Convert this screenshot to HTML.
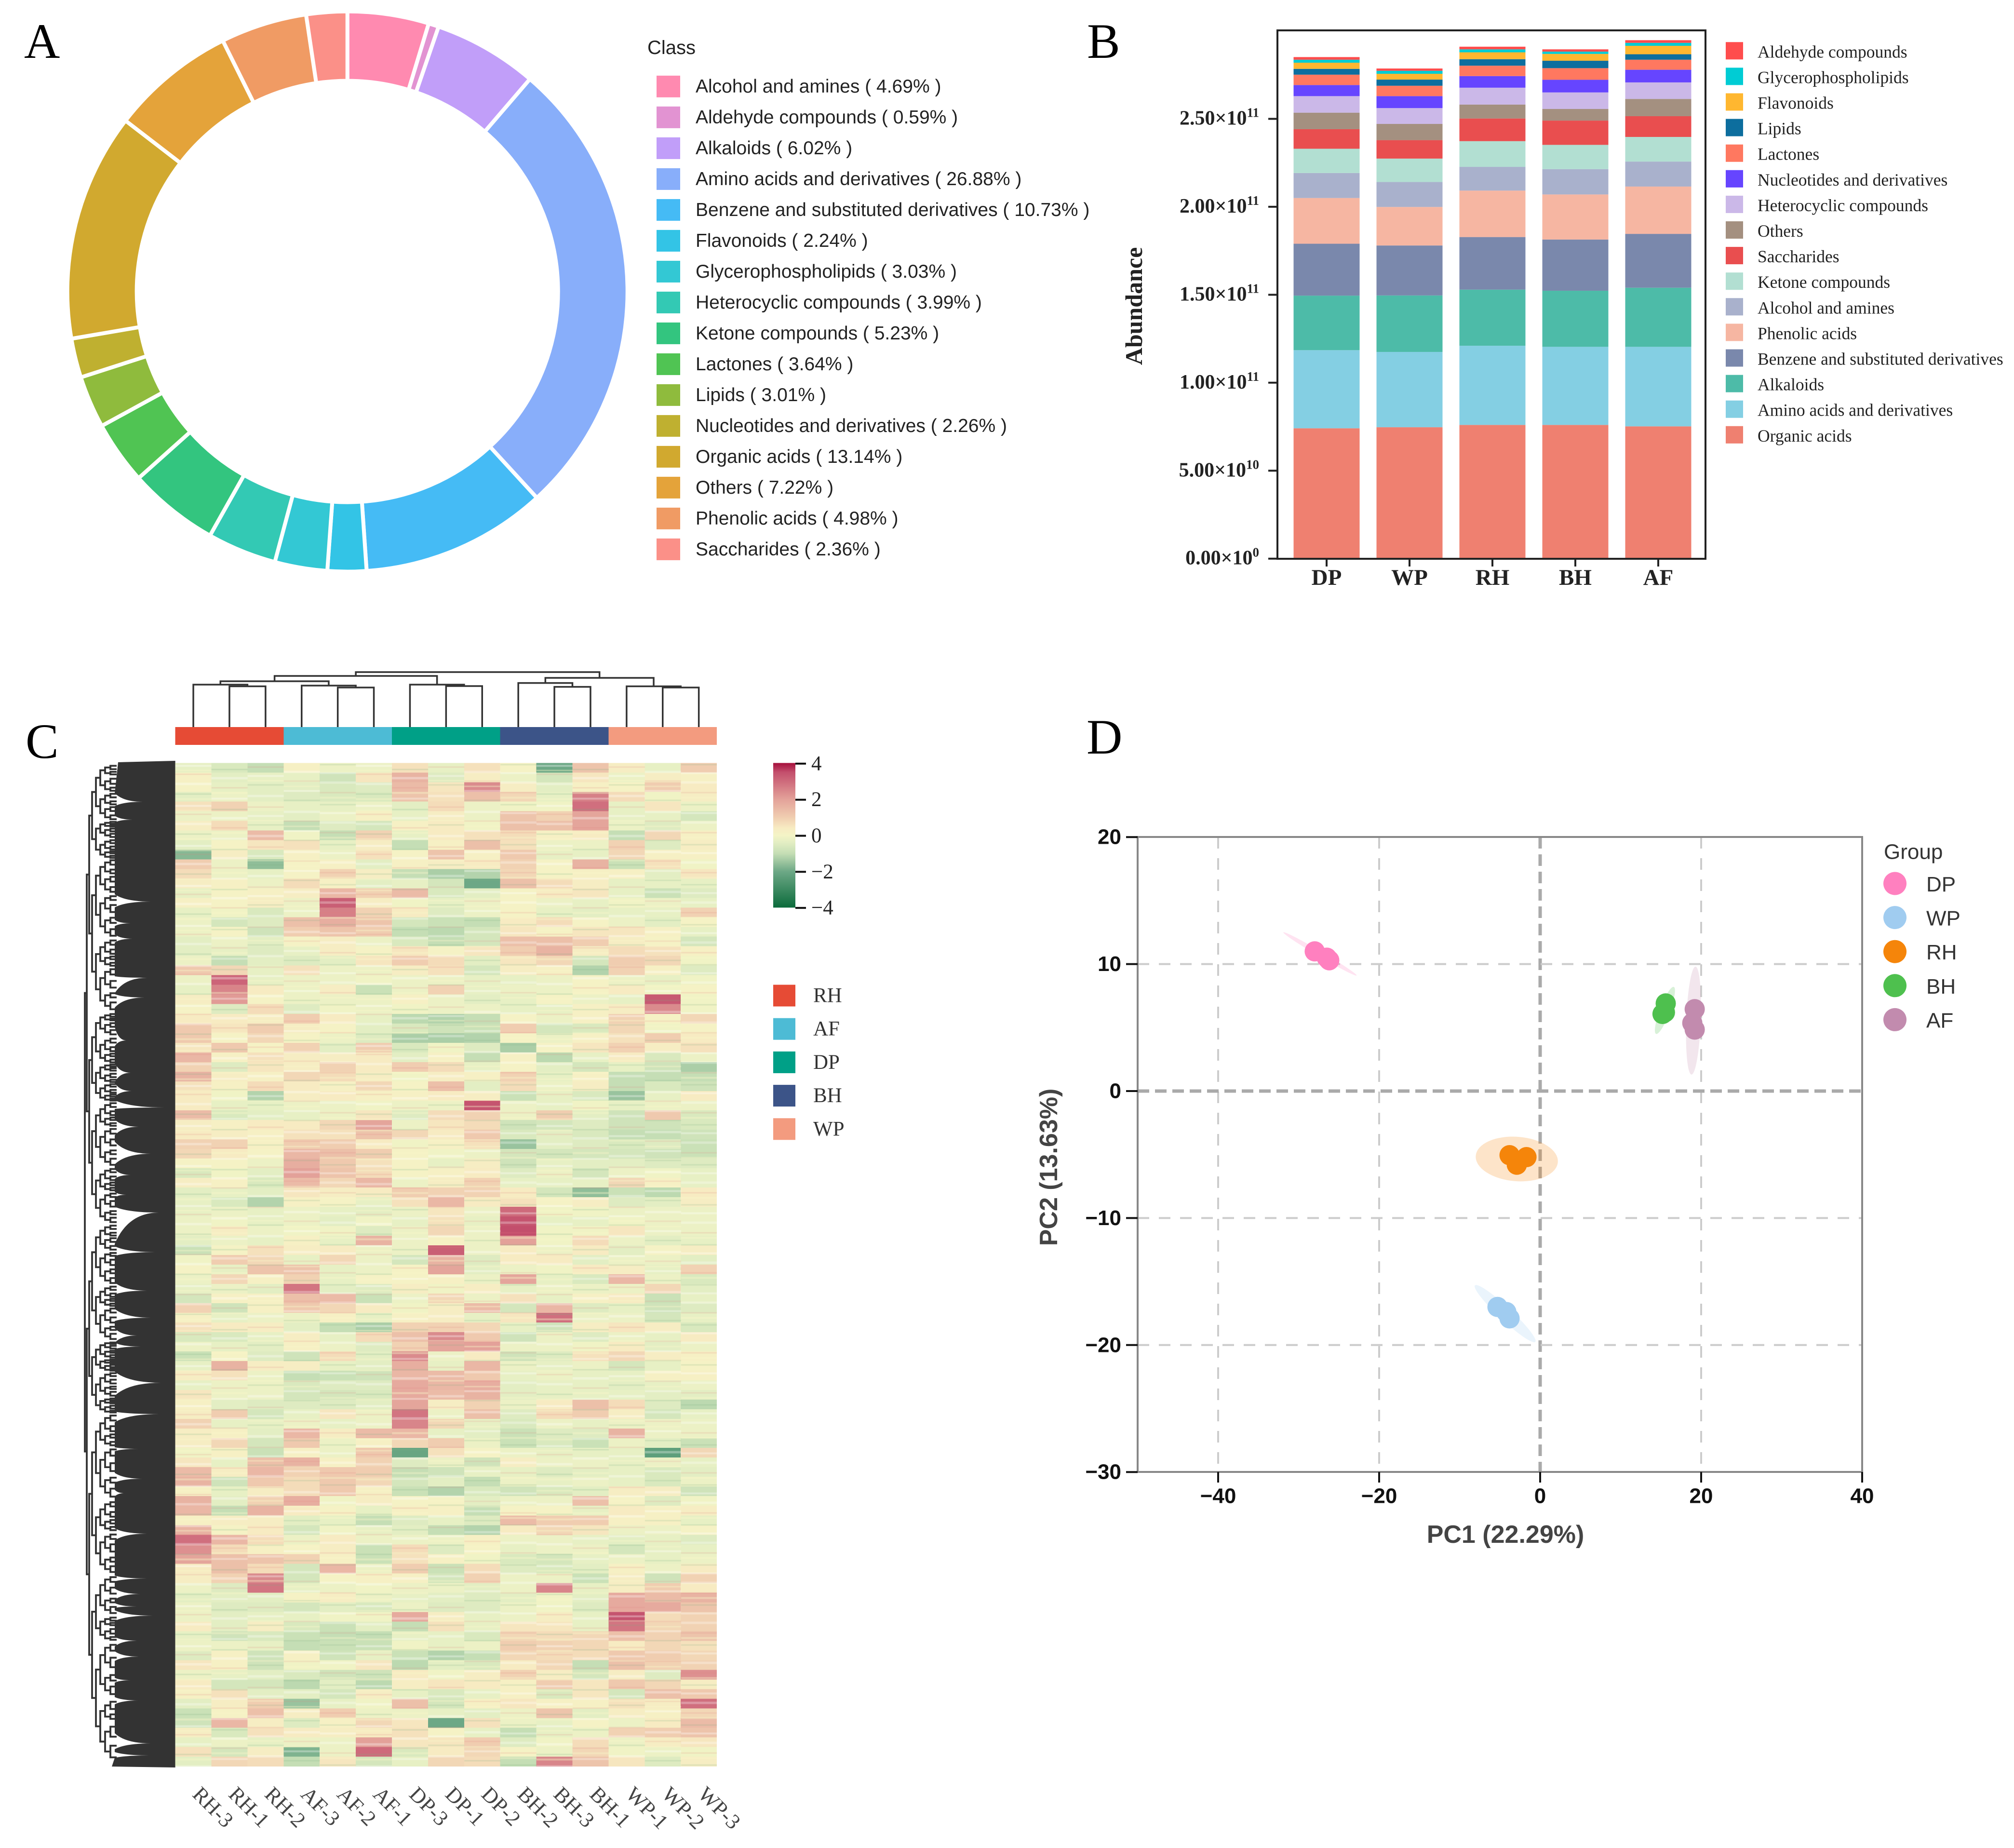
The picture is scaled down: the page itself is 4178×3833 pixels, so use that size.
<!DOCTYPE html>
<html lang="en">
<head>
<meta charset="utf-8">
<title>Metabolite composition, abundance, heatmap and PCA</title>
<style>
html,body{margin:0;padding:0;background:#fff;}
svg{display:block;}
text{fill:#222;}
.sans{font-family:"Liberation Sans",sans-serif;}
.serif{font-family:"Liberation Serif",serif;}
</style>
</head>
<body>
<svg id="fig" xmlns="http://www.w3.org/2000/svg" width="4178" height="3833" viewBox="0 0 4178 3833">
  <rect x="0" y="0" width="4178" height="3833" fill="#fff"/>
  <defs>
    <linearGradient id="cbGrad" x1="0" y1="0" x2="0" y2="1"></linearGradient>
    <pattern id="stripes" patternUnits="userSpaceOnUse" x="363.6" y="1582.5" width="374.65" height="83">
      <rect x="0" y="4" width="75" height="4" fill="#fff" opacity=".35"/>
      <rect x="0" y="14" width="75" height="3" fill="#f7f5c8" opacity=".4"/>
      <rect x="0" y="22" width="75" height="3" fill="#e07f7f" opacity=".16"/>
      <rect x="0" y="41" width="75" height="5" fill="#fff" opacity=".3"/>
      <rect x="0" y="63" width="75" height="3" fill="#78ad80" opacity=".2"/>
      <rect x="0" y="73" width="75" height="4" fill="#f7f5c8" opacity=".4"/>
      <rect x="75" y="12" width="75" height="3" fill="#78ad80" opacity=".2"/>
      <rect x="75" y="29" width="75" height="5" fill="#fff" opacity=".32"/>
      <rect x="75" y="50" width="75" height="3" fill="#e07f7f" opacity=".16"/>
      <rect x="75" y="60" width="75" height="4" fill="#f7f5c8" opacity=".4"/>
      <rect x="75" y="72" width="75" height="4" fill="#fff" opacity=".3"/>
      <rect x="150" y="7" width="75" height="3" fill="#e07f7f" opacity=".16"/>
      <rect x="150" y="25" width="75" height="4" fill="#fff" opacity=".32"/>
      <rect x="150" y="35" width="75" height="3" fill="#f7f5c8" opacity=".4"/>
      <rect x="150" y="44" width="75" height="3" fill="#78ad80" opacity=".18"/>
      <rect x="150" y="66" width="75" height="5" fill="#fff" opacity=".3"/>
      <rect x="225" y="16" width="75" height="5" fill="#fff" opacity=".3"/>
      <rect x="225" y="36" width="75" height="3" fill="#e07f7f" opacity=".15"/>
      <rect x="225" y="47" width="75" height="3" fill="#f7f5c8" opacity=".4"/>
      <rect x="225" y="56" width="75" height="4" fill="#fff" opacity=".32"/>
      <rect x="225" y="76" width="75" height="3" fill="#78ad80" opacity=".18"/>
      <rect x="300" y="2" width="75" height="3" fill="#78ad80" opacity=".18"/>
      <rect x="300" y="19" width="75" height="4" fill="#fff" opacity=".32"/>
      <rect x="300" y="38" width="75" height="5" fill="#fff" opacity=".28"/>
      <rect x="300" y="60" width="75" height="3" fill="#e07f7f" opacity=".16"/>
      <rect x="300" y="70" width="75" height="4" fill="#f7f5c8" opacity=".4"/>
    </pattern>
  </defs>

  <text class="serif" x="50" y="120" font-size="103" style="fill:#000">A</text>
  <text class="serif" x="2255" y="120" font-size="103" style="fill:#000">B</text>
  <text class="serif" x="53" y="1572" font-size="103" style="fill:#000">C</text>
  <text class="serif" x="2254" y="1563" font-size="103" style="fill:#000">D</text>

  <g id="panelA"></g>
  <text class="sans" x="1343" y="99" font-size="40" dominant-baseline="central">Class</text>
  <g id="panelAL"></g>

  <g id="panelB"></g>
  <rect x="2650" y="63" width="888" height="1096" fill="none" stroke="#222" stroke-width="4"/>
  <g id="panelBAxis"></g>
  <text class="serif" font-weight="bold" font-size="50" text-anchor="middle" dominant-baseline="central" transform="translate(2352 635) rotate(-90)">Abundance</text>
  <g id="panelBL"></g>

  <g id="panelCTree"></g>
  <g id="panelCAnn"></g>
  <g id="panelCRows"></g>
  <g id="panelC"></g>
  <rect x="363.6" y="1582.5" width="1123.5" height="2081" fill="url(#stripes)"/>
  <g id="panelCLabels"></g>
  <rect x="1604" y="1582.5" width="46" height="300" fill="url(#cbGrad)"/>
  <g id="panelCBar"></g>
  <g id="panelCL"></g>

  <g id="panelD"></g>
  <text class="sans" font-weight="bold" font-size="52" x="3123" y="3183" text-anchor="middle" dominant-baseline="central" style="fill:#444">PC1 (22.29%)</text>
  <text class="sans" font-weight="bold" font-size="52" text-anchor="middle" dominant-baseline="central" transform="translate(2176 2421) rotate(-90)" style="fill:#444">PC2 (13.63%)</text>
  <text class="sans" font-size="44" x="3908" y="1767" dominant-baseline="central" style="fill:#333">Group</text>
  <g id="panelDL"></g>
</svg>

<script>
/* ---------- Panel A data ---------- */
const pieClasses = ["Alcohol and amines","Aldehyde compounds","Alkaloids","Amino acids and derivatives","Benzene and substituted derivatives","Flavonoids","Glycerophospholipids","Heterocyclic compounds","Ketone compounds","Lactones","Lipids","Nucleotides and derivatives","Organic acids","Others","Phenolic acids","Saccharides"];
const pieValues = [4.69,0.59,6.02,26.88,10.73,2.24,3.03,3.99,5.23,3.64,3.01,2.26,13.14,7.22,4.98,2.36];
const pieColors = ["#FF8AB0","#E293D2","#C19EF9","#88AEFA","#45BBF5","#33C4E6","#33C8D4","#33C9B4","#33C57F","#50C453","#8FBB3D","#BFB030","#D1A92F","#E4A33A","#F09B64","#FB9088"];

/* ---------- Panel B data (values in 1e9, stacked bottom to top) ---------- */
const barCategories = ["DP","WP","RH","BH","AF"];
const organicAcids = [74.1,74.7,76.0,76.0,75.2];
const aminoAcids = [44.4,42.8,45.0,44.4,45.2];
const alkaloids = [31.0,32.1,31.9,31.9,33.6];
const benzeneDerivatives = [29.5,28.4,29.9,29.1,30.6];
const phenolicAcids = [26.0,21.9,26.4,25.6,26.9];
const alcoholAmines = [14.2,14.2,13.5,14.4,14.2];
const ketoneCompounds = [13.8,13.3,14.6,13.8,14.0];
const saccharides = [11.1,10.5,12.9,13.8,11.8];
const others = [9.4,9.2,7.9,6.6,9.8];
const heterocyclic = [9.4,9.0,9.6,9.4,9.4];
const nucleotides = [6.3,6.8,6.6,7.2,7.2];
const lactones = [5.9,5.9,5.9,6.6,5.7];
const lipids = [3.3,3.5,3.7,4.2,3.1];
const flavonoids = [3.5,3.3,3.9,3.9,4.8];
const glycerophospholipids = [1.7,1.7,1.7,1.3,1.7];
const aldehydes = [1.5,1.3,1.5,1.3,1.5];
const barSeries = [organicAcids,aminoAcids,alkaloids,benzeneDerivatives,phenolicAcids,alcoholAmines,ketoneCompounds,saccharides,others,heterocyclic,nucleotides,lactones,lipids,flavonoids,glycerophospholipids,aldehydes];
const barSeriesNames = ["Organic acids","Amino acids and derivatives","Alkaloids","Benzene and substituted derivatives","Phenolic acids","Alcohol and amines","Ketone compounds","Saccharides","Others","Heterocyclic compounds","Nucleotides and derivatives","Lactones","Lipids","Flavonoids","Glycerophospholipids","Aldehyde compounds"];
const barColors = ["#EF8070","#84CFE3","#4DBBA8","#7A88AC","#F6B6A2","#A9B1CC","#B2DFD2","#E94E4F","#A49080","#CBB8E8","#6645FF","#FF7860","#0D6E9E","#FFB730","#00CCD4","#FF4D4D"];
const barTickValues = [0,50,100,150,200,250];
const barTickMantissa = ["0.00","5.00","1.00","1.50","2.00","2.50"];
const barTickExponent = ["0","10","11","11","11","11"];

/* ---------- Panel C data ---------- */
const heatSamples = ["RH-3","RH-1","RH-2","AF-3","AF-2","AF-1","DP-3","DP-1","DP-2","BH-2","BH-3","BH-1","WP-1","WP-2","WP-3"];
const heatGroups = ["RH","AF","DP","BH","WP"];
const heatGroupColors = ["#E64B35","#4DBBD5","#00A087","#3C5488","#F39B7F"];
const colorStopValues = [-4,-2,-1,-0.4,0,0.4,1,2,3.5,4];
const colorStopHex = ["#0B6B3B","#6DA886","#C5DEB5","#E3EEC3","#F4F4C6","#F7EBC2","#F0CDB0","#E3A199","#C34E6C","#A50F3C"];
const colorbarTicks = [4,2,0,-2,-4];
/* column merges: [left, right, height]; ids 0-14 are samples, 15+ are earlier merges */
const columnMerges = [[1,2,84.5],[0,15,88],[4,5,82],[3,17,86],[16,18,95],[7,8,85],[6,20,88],[19,21,106],[10,11,83.4],[9,23,91.4],[13,14,82],[12,25,84.5],[24,26,102],[22,27,114]];
const heatRows = [
[-.3,-.6,-1,.2,-.2,-.2,.6,-.3,.6,.1,-2,1.2,.3,-.3,1],
[.2,-.4,-.3,-.3,-.8,.5,1.6,-.5,.3,-.2,-.7,.5,-.2,.3,.2],
[.1,-.3,-.4,-.4,-.6,-.5,1.4,.5,2.4,.3,-.4,.2,.1,1,.4],
[-.4,-.2,-.4,-.5,-.6,-.6,1.2,.6,1.3,.8,-.3,2.6,.7,-.1,.3],
[.6,.9,-.2,-.3,-.3,-.2,-.4,.7,-.2,-.1,-.1,2.9,-.3,.5,-.2],
[-.2,-.2,-.3,-.4,-.2,.2,-.3,.3,-.2,1.2,.9,1.9,-.3,-.3,-.7],
[.3,.7,-.3,-1,-.5,-.7,.2,.4,-.1,1.3,1.3,1.9,-.2,-.5,-.2],
[-.2,-.2,1.4,-.1,-1,.9,-.3,.4,.6,.7,.2,.4,-1,.8,.2],
[-.4,.1,.5,.6,-.3,.3,-1,.2,1.3,.6,-.2,-.2,.9,-.5,.3],
[-1.7,.3,-.6,.2,-.2,.6,.1,1.2,.2,1.1,-.3,-.3,.8,.2,.2],
[1,-.2,-1.6,.1,.2,-.4,.2,.3,.4,.9,.1,1.6,-.9,.6,-.1],
[.7,-.2,-.3,.1,.9,.3,-1,-1.3,-1.2,.8,.1,.2,.2,-.4,.5],
[.3,.2,-.2,.7,.2,-.4,-.3,-.7,-2,1.3,.7,.3,-.3,-.3,-.3],
[-.3,.1,.2,.3,1.5,.9,1.4,-.6,-.4,.1,.4,.5,-.3,-.9,-.5],
[.2,.1,.3,-.2,3.2,.3,-.1,-.3,-.2,.1,-.2,-.3,-.1,-.2,-.3],
[-.3,-.1,-.6,-.2,2.6,.9,.4,-.5,-.2,.1,-.3,-.4,-.3,-.3,.9],
[-.2,-.7,-.5,1.3,1.7,1.2,-.7,-.9,-1,.4,.7,.1,-.2,-.4,.1],
[-.2,.1,-.8,1,1.2,1,-1,-1.1,-.7,.5,.1,.5,.5,.2,-.3],
[-.4,-.2,-.4,.1,.3,-.2,-.6,-1,-.7,1.3,1.3,1,.3,.1,-.7],
[-.4,-.3,-.5,-.3,.3,.1,.5,.1,.5,1,1.6,.3,.7,.6,.2],
[-.2,-1,-.4,-.5,-.4,.5,1,.7,-.4,.5,.8,-.7,1,.8,-.1],
[1.1,.8,-.3,.6,-.2,-.2,.3,.6,-.7,.3,.2,-1.2,.9,.2,-.5],
[-.2,3.1,-.3,-.2,-.2,-.1,-.2,-.2,-.3,-.3,-.2,.1,-.2,-.3,-.1],
[-.3,2.5,.4,-.2,.3,-.9,-.2,.9,-.3,-.2,-.2,.1,.4,-.1,.1],
[.3,2.1,.1,-.2,-.2,-.2,.2,-.2,-.4,-.3,.1,-.2,-.3,3.3,-.1],
[.1,-.5,.7,-.5,-.1,-.2,-.1,-.2,-.2,-.3,-.3,.2,.3,2.4,-.1],
[.4,.4,.3,1,.4,-.3,-1.1,-1.2,-1,.1,-.2,.2,.9,.1,.8],
[1.1,.5,1,.3,.1,-.4,-.6,-.8,-.9,1,-.7,-.6,.8,-.1,.1],
[1.1,.1,.8,.1,-.2,-.5,-1.3,-1.3,-1.2,.1,-.2,.2,.6,1,.4],
[.5,1.1,.1,.9,-.4,1,-.6,-.1,-.5,-1.3,.1,.5,.9,.3,.6],
[1.5,.2,.6,.3,.3,.4,-.4,.2,-1,.2,-1.1,-.3,.4,-.6,-.2],
[.9,-.5,.5,.3,.9,.4,1,.7,-.3,.1,-.4,-.7,-.3,-.8,-1.3],
[1.6,.3,.2,.8,.7,.3,-.1,.3,.2,.9,-.3,.2,-1,-1,-1],
[.6,.2,.7,.4,.2,.8,.1,1.3,-.4,.7,-.2,.3,-1,-.6,-.8],
[.4,-.1,-1.2,.3,.4,.2,.2,.4,.3,-.9,-.3,-.6,-1.5,-.3,.4],
[.4,-.3,-.3,-.2,-.2,-.1,-.2,-.2,3.4,-.2,-.3,-.1,-.3,-.2,-.2],
[1.4,-.6,-.4,-.3,-.2,.5,-.5,.7,.9,-.2,1,-.4,-.8,1.1,-.6],
[.3,.2,.4,.4,.8,1.9,-.2,.5,.7,-.8,-.7,-.5,-.8,-.8,-.6],
[.4,.3,.2,.6,.6,1.2,.8,.4,1.1,-.6,-.4,-.6,-1,-1,-.8],
[.9,.9,.2,1,1,.4,-.1,.2,.6,-1.5,-.4,-.5,-.6,-.5,-.9],
[.8,.4,.1,1.5,1.3,1,.1,-.1,-.2,-.7,-.7,-.7,-.7,-.8,-.9],
[.1,.1,-.2,1.7,1.1,.6,.1,-.3,.3,-.8,-.3,-.4,-.4,-.5,-.5],
[-.6,-.1,-.4,2,1.2,.7,.1,.2,.4,-.5,-.2,-.7,-.2,-.1,-.3],
[.3,.2,-.6,1.4,.8,1.5,-.2,.3,.9,-.3,-.3,-.3,.8,.2,-.3],
[-.4,-.3,-.4,.5,.3,.4,1,.9,.9,.4,-.7,-1.6,-.9,-1.1,.4],
[-.3,-.6,-1.2,.2,.1,-.3,.6,1.5,.4,.6,.1,.3,-.5,-.4,.3],
[-.3,-.2,-.3,-.2,-.3,-.4,-.2,.5,-.2,3,-.1,-.1,-.2,-.2,-.2],
[-.2,-.1,-.3,-.2,-.4,-.1,-.3,.6,-.3,3.4,-.3,-.3,-.1,-.2,-.2],
[-.2,.3,-.2,-.1,-.1,-.5,-.2,.8,-.2,3.5,-.1,-.1,.5,-.2,-.2],
[-.4,-.2,-.3,.2,-.3,1.6,-.2,.2,-.2,2,-.1,.7,-.2,-.4,-.3],
[-.9,.1,.6,.3,.4,-.2,-.2,3.2,-.2,.4,-.2,.4,-.4,.1,.3],
[-.1,1,.8,-.3,.8,-.2,-.7,1.6,-.5,.4,.4,-.4,-.2,-.2,-.4],
[.1,-.3,1.2,1.2,-.3,-.2,.1,1.9,-.4,-.2,-.1,.4,.3,-.3,.9],
[-.2,.8,.2,.9,-.3,.1,.1,.2,-.2,1.9,-.3,-.6,1.5,-.2,-.6],
[-.3,-.2,-.4,2.8,-.4,-.5,.3,-.1,.3,-.3,-.2,-.2,-.2,.8,-.4],
[-.7,.2,.2,1.3,1.4,-.9,-.2,.8,-.2,.6,-.3,.2,.4,-.9,-.3],
[.9,-.8,.2,1.1,.8,.4,-.1,.3,1.4,-.7,1.5,-.5,-.3,-.8,-.5],
[.2,-.3,-.2,-.2,.2,-.3,.2,.3,-.3,.5,2.9,-.2,-.2,-.7,-.3],
[.6,.4,.3,-.4,-1,-1.3,.9,.9,.8,-.3,-.8,.3,.5,.3,-.6],
[-.6,-.6,-.3,.3,-.3,.7,1.3,2.4,1.1,-.8,-.2,-.5,-.2,-.3,.4],
[-.2,-.3,-.4,.2,-.2,-.5,.9,1.9,2,-.2,-.2,-.1,.4,-.4,-.2],
[-.9,.1,-.5,-.8,.7,-.4,2.4,-.2,.4,-.8,-.5,.6,.8,.3,.2],
[-.3,1.6,.3,.3,-.3,-.4,1.7,-.3,1.5,-.2,-.3,-.2,-.7,-.3,.1],
[.3,.6,-.2,-1,-.9,-.8,1.5,1.4,1.1,-.3,-.2,-.3,-.3,.2,.2],
[-.3,-.2,-.2,-.6,-.5,-.5,1.8,1.5,1.7,-.4,-.3,-.3,-.4,-.3,-.2],
[.5,-.2,-.2,-.7,-.7,-.6,1.8,1.4,1.6,-.4,-.3,-.3,-.3,-.4,-.4],
[.2,-.4,-.5,-.5,-.5,-.4,1.9,.3,.9,-.2,.4,1.3,.7,-.5,-1.1],
[.3,1,-.7,-.3,.5,-.2,2.8,-.2,1.3,-.5,.7,1,.3,-.7,-.3],
[.9,-.3,-.3,-.2,-.3,-.2,2.5,.8,-.3,-.6,-.2,-.3,-.2,-.2,-.2],
[.3,.2,-.4,1.5,.3,1.4,1.5,-.3,-.4,-.9,-.5,-.5,1.6,-.2,-.2],
[.3,.8,-.7,1.1,-.2,.2,.8,1,-.2,-.9,-.6,-.9,-.2,-.4,-.9],
[-.1,.2,-.9,.2,-.2,1.1,-2.1,.6,.1,-.2,-.3,-.3,-.3,-2.3,.8],
[.5,-.3,1.3,1.6,.2,.9,-.5,-.2,-.8,.3,-.2,-.2,-.3,-.2,-.3],
[1.4,.3,1.5,.9,1.1,1,-1,-.8,-.3,-.3,-.5,-.4,-.3,-.6,-.4],
[1.6,-.8,1.1,.7,1.1,.8,-.7,-.4,-1,-.2,-.3,-.2,-.3,-.6,-.2],
[.2,-.3,.3,.7,1.1,.2,-.9,-1.2,-.6,-.8,-.6,-.4,.3,.3,-.8],
[1.6,-.4,.9,1.7,-.1,.3,.1,.1,-.4,-.2,-.2,1.3,.1,-.5,-.1],
[1.5,-1,1.6,.4,.1,-.3,.2,.2,-1,.1,.1,-.3,.4,.2,.3],
[.2,.3,.3,-.4,-.3,-1,-.5,-.3,-.5,1.4,1,1,.2,.2,-.3],
[1.6,.1,.4,-.7,-.1,-.3,-.4,-1,-1.2,.4,.8,.5,-.2,-.2,.1],
[2.9,1.5,.7,-.2,.4,-.2,-.2,-.2,.2,-.2,-.2,-.3,-.4,-.3,-.5],
[2.3,.7,.2,.1,.3,-.9,.7,-.5,.1,-.3,-.2,-.2,-.7,-.3,-.3],
[1.9,1.3,1.2,.9,.2,-.9,.6,.2,-.1,-.6,-.7,-.3,-.2,-.3,-.2],
[.4,1.3,.7,-.7,1.5,-.2,1,-.9,.7,-.5,-.6,-.4,.2,-.2,.4],
[.3,.9,2.4,-.7,.1,.2,.2,-.7,.9,-.2,-.2,-.9,.3,-.8,.9],
[-.2,-.5,2.8,-.3,-.2,-.1,-.2,-.2,-.4,-.2,2.5,-.3,.3,1,.4],
[-.4,-.4,-.4,.1,.3,-.2,-.3,-.4,-.5,-.4,-.1,-.4,1.8,1.4,1.6],
[-.2,-.5,-.5,-.7,-.4,-.6,-.2,-.5,-.5,-.2,-.1,-.5,1.8,1.8,1.2],
[-.2,-.4,-.3,-.3,-.1,-.1,1.8,.3,-.3,-.2,.3,-.3,3.4,.7,.9],
[.4,-.4,.3,-.6,-.9,-.4,-1,.6,-.3,.5,.5,-.3,2.8,.8,.9],
[-.3,-.8,-.6,-.9,-1,-1,-.3,-.3,-.6,.8,.7,.8,1.3,.9,1.2],
[-.2,-.2,-.3,-1,-.9,-.9,-.1,-.3,-.2,1,.9,.8,.4,.8,.6],
[-.5,.2,-.8,.2,-.8,-.3,-.9,-1.2,-1,.8,.7,.7,1.1,1,.8],
[.5,.2,-.8,-.1,-.1,.5,-1.1,-.4,-.6,.4,.8,-1,1.3,.9,.9],
[-.2,-.3,-.4,-.6,-.8,-.8,.4,-.1,.3,.9,.3,-.7,.3,-.5,2.3],
[.4,-.7,-.7,-1.1,-.4,-1.1,.3,.5,.4,.2,1,.5,1.1,.8,.3],
[.2,.6,-.4,-.4,-.7,.3,-.3,-.6,-.3,.2,-.6,.5,-.7,1.3,1.1],
[-.4,.3,1,-1.5,-.3,-.1,1.3,-.7,.2,.5,.2,.2,.6,.3,2.9],
[-.9,.1,1.3,.3,1,-.2,-.2,-.3,-.4,-.2,1.2,-.4,.3,.2,.8],
[-.8,1.5,.3,-.5,.2,.8,.5,-2,.6,-.2,-.3,.1,-.2,.4,1.4],
[.3,-.6,.6,.4,.3,.4,.6,.1,-.3,-1,-.3,-.2,.9,1,1.2],
[-.3,-.2,-.3,-.2,-.2,2,.5,.5,1,-.5,-.1,.7,-.2,.3,.5],
[.6,-.7,.3,-1.8,-.2,3,-.6,.4,.8,.1,-.2,.8,-.1,-.2,-.1],
[-.4,.8,.7,-1,.5,-.7,-.3,.8,.7,-1,2.5,1.2,.5,-.5,.3]
];
/* row dendrogram outline: white wedges cutting into the dense leaf block */
const dendroGapTop = [1645,1692,1855,1908,1938,2025,2062,2130,2205,2246,2282,2322,2368,2425,2472,2503,2585,2660,2715,2755,2785,2845,2928,3002,3055,3090,3170,3268,3295,3325,3340,3395,3425,3480,3520,3595,3634];
const dendroGapTip = [1663,1700,1870,1915,1947,2028,2069,2158,2225,2263,2297,2337,2393,2437,2478,2515,2597,2677,2733,2770,2793,2868,2933,3005,3067,3097,3181,3274,3306,3332,3351,3403,3436,3485,3527,3616,3641];
const dendroGapBottom = [1672,1706,1882,1921,1955,2060,2090,2170,2245,2275,2300,2355,2415,2445,2484,2580,2605,2685,2740,2785,2798,2895,2950,3010,3075,3104,3195,3280,3318,3335,3362,3415,3445,3490,3535,3628,3646];
const dendroGapReach = [296,275,313,271,275,305,300,262,271,273,342,288,313,271,262,330,322,305,313,284,292,334,330,288,296,258,305,305,292,284,317,284,288,271,288,313,309];
const dendroSplits = [.46,.54,.38,.6,.5,.42,.57,.48,.35,.62,.52,.44];

/* ---------- Panel D data ---------- */
const pcaGroups = ["DP","WP","RH","BH","AF"];
const pcaColors = ["#FF80BF","#A0CCF0","#F5850A","#4EC04E","#C28BAE"];
const pcaPc1 = [[-28,-26.5,-26.2],[-5.3,-4.2,-3.8],[-3.8,-1.7,-2.9],[15.6,15.5,15.2],[19.2,18.9,19.2]];
const pcaPc2 = [[11,10.5,10.3],[-17,-17.4,-17.9],[-5.05,-5.2,-5.8],[6.9,6.2,6.07],[6.45,5.36,4.84]];
const ellipseStartPc1 = [-31.9,-8.1,-8,14.4,18.8];
const ellipseStartPc2 = [12.5,-15.3,-5.1,4.5,1.3];
const ellipseEndPc1 = [-22.8,-0.6,2.2,16.6,19.3];
const ellipseEndPc2 = [9.1,-19.75,-5.6,8.2,9.8];
const ellipseMinorPc = [.2,.5,1.75,.4,.57];
const pcaXTicks = [-40,-20,0,20,40];
const pcaYTicks = [20,10,0,-10,-20,-30];

const NS = "http://www.w3.org/2000/svg";
function el(tag, attrs, parent, txt) {
  const e = document.createElementNS(NS, tag);
  for (const k in attrs) e.setAttribute(k, attrs[k]);
  if (txt !== undefined) e.textContent = txt;
  parent.appendChild(e);
  return e;
}
const $ = id => document.getElementById(id);
const slug = s => s.toLowerCase().replace(/[^a-z0-9]+/g, "-");
const minusText = v => (v < 0 ? "\u2212" + Math.abs(v) : String(v));

/* ---------- Panel A ---------- */
(function () {
  const cx = 720.7, cy = 604.6, R = 581, r = 437;
  const total = pieValues.reduce((a, b) => a + b, 0);
  const angle = v => (v / total) * 2 * Math.PI;
  let acc = 0;
  pieValues.forEach((v, i) => {
    const a0 = angle(acc), a1 = angle(acc + v);
    acc += v;
    const p = (rad, a) => (cx + rad * Math.sin(a)).toFixed(2) + " " + (cy - rad * Math.cos(a)).toFixed(2);
    const large = a1 - a0 > Math.PI ? 1 : 0;
    const d = "M" + p(R, a0) + " A" + R + " " + R + " 0 " + large + " 1 " + p(R, a1) + " L" + p(r, a1) + " A" + r + " " + r + " 0 " + large + " 0 " + p(r, a0) + " Z";
    const s = el("path", { d: d, fill: pieColors[i], stroke: "#fff", "stroke-width": 8 }, $("panelA"));
    
    
  });
  pieClasses.forEach((name, i) => {
    const y = 179.4 + 64 * i;
    const sw = el("rect", { x: 1362, y: y - 22.5, width: 49, height: 45, fill: pieColors[i] }, $("panelAL"));
    
    
    const t = el("text", { x: 1443, y: y, class: "sans", "font-size": 39, "dominant-baseline": "central" }, $("panelAL"), name + " ( " + pieValues[i].toFixed(2) + "% )");
    
    
  });
})();

/* ---------- Panel B ---------- */
(function () {
  const xB = i => 2752 + 172 * i;
  const yB = v => 1158.7 - v * 3.649;
  const bw = 137;
  barCategories.forEach((cat, i) => {
    let acc = 0;
    barSeries.forEach((series, s) => {
      const v = series[i];
      const r = el("rect", { x: xB(i) - bw / 2, y: yB(acc + v), width: bw, height: yB(acc) - yB(acc + v), fill: barColors[s] }, $("panelB"));
      
      
      acc += v;
    });
    const tick = el("line", { x1: xB(i), x2: xB(i), y1: 1159, y2: 1175, stroke: "#222", "stroke-width": 4 }, $("panelBAxis"));
    
    
    const lab = el("text", { x: xB(i), y: 1198, class: "serif", "font-weight": "bold", "font-size": 47, "text-anchor": "middle", "dominant-baseline": "central" }, $("panelBAxis"), cat);
    
    
  });
  barTickValues.forEach((v, i) => {
    const y = yB(v);
    const tick = el("line", { x1: 2631, x2: 2650, y1: y, y2: y, stroke: "#222", "stroke-width": 4 }, $("panelBAxis"));
    
    
    const t = el("text", { x: 2612, y: y + 12, class: "serif", "font-weight": "bold", "font-size": 42, "text-anchor": "end" }, $("panelBAxis"));
    
    
    el("tspan", {}, t, barTickMantissa[i] + "\u00D710");
    el("tspan", { dy: -16, "font-size": 27 }, t, barTickExponent[i]);
  });
  barSeriesNames.slice().reverse().forEach((name, i) => {
    const y = 105.3 + 53.1 * i;
    const colour = barColors[barSeriesNames.length - 1 - i];
    const sw = el("rect", { x: 3580, y: y - 18, width: 36, height: 36, fill: colour }, $("panelBL"));
    
    
    const t = el("text", { x: 3646, y: y + 2, class: "serif", "font-size": 35.5, "dominant-baseline": "central" }, $("panelBL"), name);
    
    
  });
})();

/* ---------- Panel C ---------- */
function heatColor(z) {
  const sv = colorStopValues;
  if (z <= sv[0]) return colorStopHex[0];
  for (let i = 1; i < sv.length; i++) {
    if (z <= sv[i]) {
      const t = (z - sv[i - 1]) / (sv[i] - sv[i - 1]);
      const a = parseInt(colorStopHex[i - 1].slice(1), 16), b = parseInt(colorStopHex[i].slice(1), 16);
      const mix = sh => Math.round(((a >> sh) & 255) * (1 - t) + ((b >> sh) & 255) * t);
      return "rgb(" + mix(16) + "," + mix(8) + "," + mix(0) + ")";
    }
  }
  return colorStopHex[colorStopHex.length - 1];
}
(function () {
  const left = 363.6, top = 1582.5, cw = 1123.5 / heatSamples.length, rh = 2081 / heatRows.length;
  const xC = i => left + cw * i;
  const yC = i => top + rh * i;
  heatRows.forEach((row, r) => {
    row.forEach((v, c) => {
      const cell = el("rect", { x: xC(c).toFixed(2), y: yC(r).toFixed(2), width: cw.toFixed(2), height: (rh + .4).toFixed(2), fill: heatColor(v), "shape-rendering": "crispEdges" }, $("panelC"));
      
      
    });
  });
  heatSamples.forEach((name, i) => {
    const x = xC(i) + cw / 2 - 4;
    const t = el("text", { class: "serif", "font-size": 44, transform: "translate(" + x.toFixed(1) + " 3724) rotate(45)", style: "fill:#444" }, $("panelCLabels"), name);
    
    
  });
  /* annotation */
  heatGroups.forEach((g, i) => {
    const a = el("rect", { x: xC(i * 3), y: 1508, width: cw * 3, height: 37, fill: heatGroupColors[i], "shape-rendering": "crispEdges" }, $("panelCAnn"));
    
    
    const y = 2065 + 69.2 * i;
    const sw = el("rect", { x: 1604, y: y - 22.5, width: 46, height: 45, fill: heatGroupColors[i] }, $("panelCL"));
    
    
    const t = el("text", { x: 1687, y: y, class: "serif", "font-size": 43, "dominant-baseline": "central", style: "fill:#333" }, $("panelCL"), g);
    
    
  });
  /* column dendrogram */
  const nodeX = heatSamples.map((_, i) => xC(i) + cw / 2);
  const nodeH = heatSamples.map(() => 0);
  const yT = h => 1508 - h;
  columnMerges.forEach(m => {
    const a = m[0], b = m[1], h = m[2];
    const d = "M" + nodeX[a] + " " + yT(nodeH[a]) + " V" + yT(h) + " H" + nodeX[b] + " V" + yT(nodeH[b]);
    const p = el("path", { d: d, fill: "none", stroke: "#333", "stroke-width": 3.5 }, $("panelCTree"));
    
    
    nodeX.push((nodeX[a] + nodeX[b]) / 2);
    nodeH.push(h);
  });
  /* row dendrogram: dense leaf block with thin concave white wedges */
  const base = 238;
  let d = "M363.6 1578 L245 1581";
  dendroGapTop.forEach((yt, i) => {
    const reach = dendroGapReach[i], tip = dendroGapTip[i];
    const ctrl = base + (reach - base) * .3;
    d += " L" + base + " " + yt + " Q" + ctrl + " " + tip + " " + reach + " " + tip + " Q" + ctrl + " " + tip + " " + base + " " + dendroGapBottom[i];
  });
  d += " L232 3664 L363.6 3666 Z";
  const block = el("path", { d: d, fill: "#333" }, $("panelCRows"));
  
  
  const levels = [176, 180, 185, 191, 199, 208, 218, 229, 242];
  const maxDepth = 8;
  let splitIndex = 0;
  let seg = "";
  function branch(y0, y1, depth) {
    if (depth === maxDepth) return (y0 + y1) / 2;
    const ratio = dendroSplits[splitIndex++ % dendroSplits.length];
    const mid = y0 + (y1 - y0) * ratio;
    const a = branch(y0, mid, depth + 1), b = branch(mid, y1, depth + 1);
    const x = levels[depth], nx = levels[depth + 1];
    seg += "M" + nx + " " + a.toFixed(1) + "H" + x + "V" + b.toFixed(1) + "H" + nx;
    return (a + b) / 2;
  }
  branch(1585, 3660, 0);
  const tree = el("path", { d: seg, fill: "none", stroke: "#333", "stroke-width": 3.8 }, $("panelCRows"));
  
  
  /* colorbar */
  colorStopValues.forEach((v, i) => {
    el("stop", { offset: ((4 - v) / 8), "stop-color": colorStopHex[i] }, $("cbGrad"));
  });
  Array.from($("cbGrad").children).reverse().forEach(s => $("cbGrad").appendChild(s));
  colorbarTicks.forEach(v => {
    const y = 1733.5 - v * 37.4;
    const tick = el("line", { x1: 1650, x2: 1672, y1: y, y2: y, stroke: "#111", "stroke-width": 4 }, $("panelCBar"));
    
    
    const t = el("text", { x: 1683, y: y, class: "serif", "font-size": 43, "dominant-baseline": "central" }, $("panelCBar"), minusText(v));
    
    
  });
})();

/* ---------- Panel D ---------- */
(function () {
  const g = $("panelD");
  const xD = v => 2360 + (v + 50) * 16.7;
  const yD = v => 2263 - v * 26.34;
  pcaXTicks.forEach(v => {
    if (v === 40) return;
    const zero = v === 0;
    const l = el("line", { x1: xD(v), x2: xD(v), y1: 1736, y2: 3053, stroke: zero ? "#aaa" : "#ccc", "stroke-width": zero ? 7 : 4, "stroke-dasharray": zero ? "24 12" : "24 20" }, g);
    
    
  });
  pcaYTicks.forEach(v => {
    if (v === 20 || v === -30) return;
    const zero = v === 0;
    const l = el("line", { x1: 2360, x2: 3863, y1: yD(v), y2: yD(v), stroke: zero ? "#aaa" : "#ccc", "stroke-width": zero ? 7 : 4, "stroke-dasharray": zero ? "24 12" : "24 20" }, g);
    
    
  });
  const frame = el("rect", { x: 2360, y: 1736, width: 1503, height: 1317, fill: "none", stroke: "#888", "stroke-width": 4 }, g);
  
  
  pcaGroups.forEach((name, i) => {
    const x1 = xD(ellipseStartPc1[i]), y1 = yD(ellipseStartPc2[i]), x2 = xD(ellipseEndPc1[i]), y2 = yD(ellipseEndPc2[i]);
    const rx = Math.hypot(x2 - x1, y2 - y1) / 2;
    const rot = Math.atan2(y2 - y1, x2 - x1) * 180 / Math.PI;
    const e = el("ellipse", { cx: (x1 + x2) / 2, cy: (y1 + y2) / 2, rx: rx, ry: ellipseMinorPc[i] * 26.34, fill: pcaColors[i], "fill-opacity": .22, transform: "rotate(" + rot + " " + (x1 + x2) / 2 + " " + (y1 + y2) / 2 + ")" }, g);
    
    
  });
  pcaGroups.forEach((name, i) => {
    pcaPc1[i].forEach((v, j) => {
      const c = el("circle", { cx: xD(v), cy: yD(pcaPc2[i][j]), r: 21, fill: pcaColors[i] }, g);
      
      
    });
    const y = 1832.5 + 70.6 * i;
    const dot = el("circle", { cx: 3931, cy: y, r: 24, fill: pcaColors[i] }, $("panelDL"));
    
    
    const t = el("text", { x: 3996, y: y + 2, class: "sans", "font-size": 44, "dominant-baseline": "central", style: "fill:#333" }, $("panelDL"), name);
    
    
  });
  pcaXTicks.forEach(v => {
    const tick = el("line", { x1: xD(v), x2: xD(v), y1: 3053, y2: 3075, stroke: "#111", "stroke-width": 4 }, g);
    
    
    const t = el("text", { x: xD(v), y: 3103, class: "sans", "font-weight": "bold", "font-size": 44, "text-anchor": "middle", "dominant-baseline": "central", style: "fill:#111" }, g, minusText(v));
    
    
  });
  pcaYTicks.forEach(v => {
    const tick = el("line", { x1: 2336, x2: 2360, y1: yD(v), y2: yD(v), stroke: "#111", "stroke-width": 4 }, g);
    
    
    const t = el("text", { x: 2326, y: yD(v), class: "sans", "font-weight": "bold", "font-size": 44, "text-anchor": "end", "dominant-baseline": "central", style: "fill:#111" }, g, minusText(v));
    
    
  });
})();
</script>
</body>
</html>
